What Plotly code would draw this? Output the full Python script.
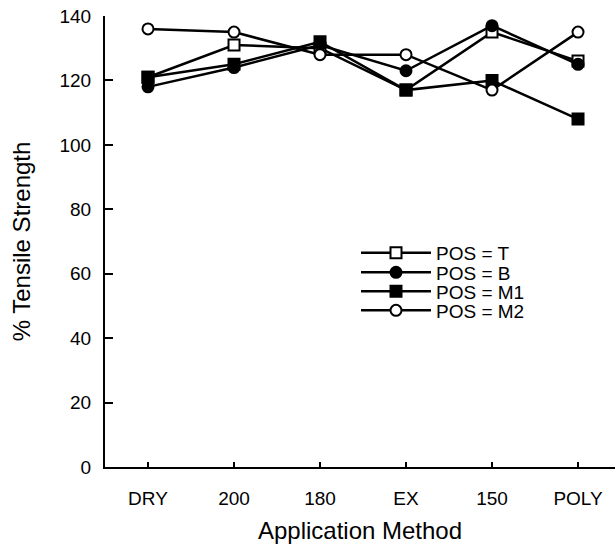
import plotly.graph_objects as go

categories = ["DRY", "200", "180", "EX", "150", "POLY"]
pos_T = [121, 131, 130, 117, 135, 126]
pos_B = [118, 124, 131, 123, 137, 125]
pos_M1 = [121, 125, 132, 117, 120, 108]
pos_M2 = [136, 135, 128, 128, 117, 135]
series_names = ["POS = T", "POS = B", "POS = M1", "POS = M2"]
y_ticks = [0, 20, 40, 60, 80, 100, 120, 140]

FONT = "Liberation Sans, Arial, Helvetica, sans-serif"
x_idx = list(range(len(categories)))

styles = [
    (pos_T, "square", "white"),
    (pos_B, "circle", "black"),
    (pos_M1, "square", "black"),
    (pos_M2, "circle", "white"),
]
legend_ids = ["legend", "legend2", "legend3", "legend4"]

# layout geometry (pixels)
W, H = 615, 546
plot_left, plot_right, plot_top, plot_bottom = 105, 615, 16, 467
legend_rows_px = [253, 272.5, 291.5, 310.5]
legend_left_px = 356
legend_itemwidth = 70

def px_x(p):
    return (p - plot_left) / (plot_right - plot_left)

def px_y(p):
    return (plot_bottom - p) / (plot_bottom - plot_top)

fig = go.Figure()
for name, (vals, sym, fill), lid in zip(series_names, styles, legend_ids):
    fig.add_trace(go.Scatter(
        x=x_idx, y=vals, name=name, mode="lines+markers",
        line=dict(color="black", width=2.5),
        marker=dict(symbol=sym, size=11, color=fill,
                    line=dict(color="black", width=2)),
        legend=lid,
    ))

leg_layout = {}
for lid, ypx in zip(legend_ids, legend_rows_px):
    leg_layout[lid] = dict(
        x=px_x(legend_left_px), y=px_y(ypx),
        xanchor="left", yanchor="middle",
        bgcolor="rgba(0,0,0,0)", font=dict(size=19),
        itemwidth=legend_itemwidth,
    )

fig.update_layout(
    width=W, height=H,
    margin=dict(l=plot_left, r=W - plot_right, t=plot_top, b=H - plot_bottom),
    paper_bgcolor="white", plot_bgcolor="white",
    font=dict(family=FONT, color="black", size=19),
    showlegend=True,
    **leg_layout,
    xaxis=dict(
        range=[-0.5, 5.43], tickvals=x_idx, ticktext=categories,
        showgrid=False, zeroline=False,
        showline=True, linecolor="black", linewidth=2,
        ticks="inside", ticklen=5, tickwidth=2, tickcolor="black",
        ticklabelstandoff=13,
        tickfont=dict(size=19),
        title=dict(text="Application Method", font=dict(size=24), standoff=14),
    ),
    yaxis=dict(
        range=[0, 140], tickvals=y_ticks,
        showgrid=False, zeroline=False,
        showline=True, linecolor="black", linewidth=2,
        ticks="inside", ticklen=8, tickwidth=2, tickcolor="black",
        ticklabelstandoff=8,
        tickfont=dict(size=19),
        title=dict(text="% Tensile Strength", font=dict(size=24), standoff=22),
    ),
)

fig.write_html("out.html")
